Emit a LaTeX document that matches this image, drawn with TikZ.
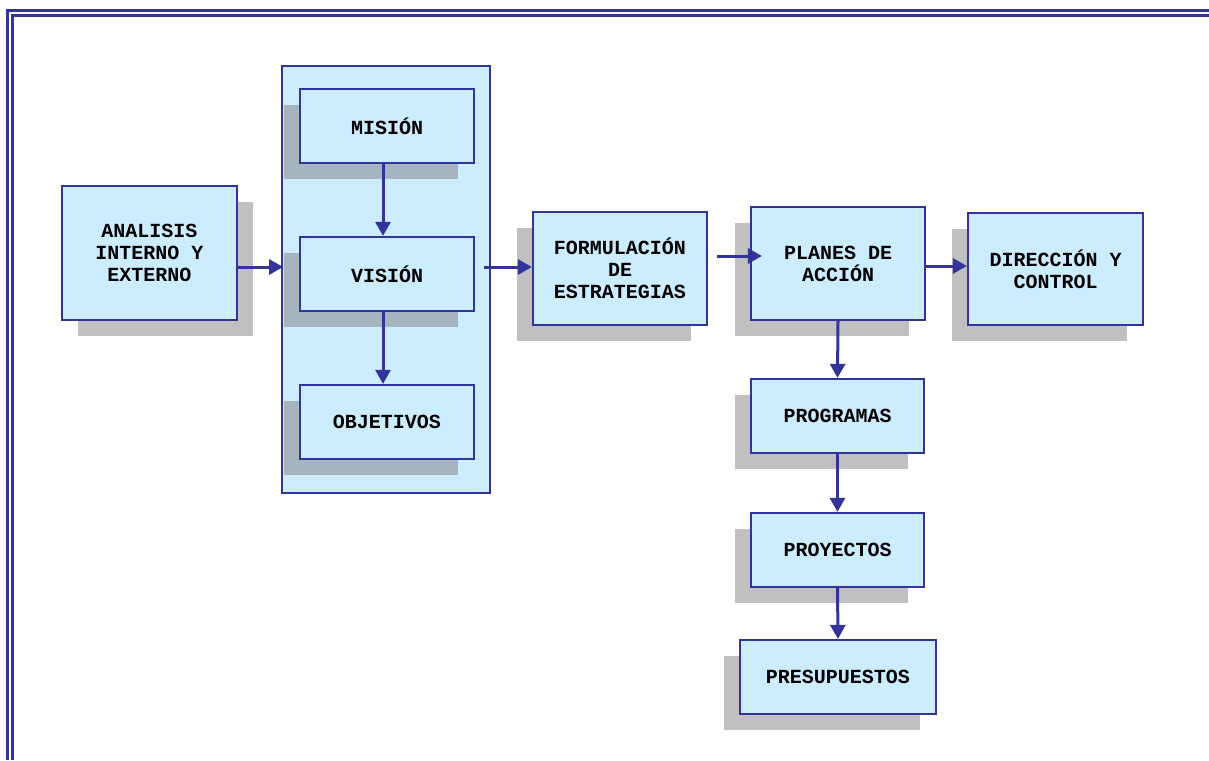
\documentclass[tikz,border=0pt]{standalone}
\usepackage{fontspec}
\setmonofont{Liberation Mono}
\usetikzlibrary{arrows.meta,calc}
\definecolor{azul}{HTML}{333399}
\definecolor{celeste}{HTML}{CCECFF}
\definecolor{gris}{HTML}{C0C0C0}
\definecolor{grisin}{HTML}{A6B4BD}

\begin{document}
\begin{tikzpicture}[x=0.5pt, y=-0.5pt,
        caja/.style={draw=azul, fill=celeste, line width=1.1pt, inner sep=0pt, align=center,
            font=\ttfamily\bfseries\fontsize{10}{11}\selectfont},
        sombra/.style={fill=gris},
        sombrain/.style={fill=grisin},
        flecha/.style={azul, line width=1.5pt, -{Triangle[length=7pt,width=7.5pt]}}]
        \useasboundingbox (0,0) rectangle (1209,760);
        % marco doble
        \draw[azul, line width=1.5pt] (7,760) -- (7,10.5) -- (1209,10.5);
        \draw[azul, line width=1.5pt] (12.5,760) -- (12.5,15.5) -- (1209,15.5);
        % bloque mision-vision-objetivos
        \node[caja, minimum width=104pt, minimum height=213.5pt] (marco) at (386,279.5) {};
        % sombras
        \fill[sombra] (78,202) rectangle (253,336);
        \fill[sombrain] (284,105) rectangle (458,179);
        \fill[sombrain] (284,253) rectangle (458,327);
        \fill[sombrain] (284,401) rectangle (458,475);
        \fill[sombra] (517,228) rectangle (691,341);
        \fill[sombra] (735,223) rectangle (909,336);
        \fill[sombra] (952,229) rectangle (1127,341);
        \fill[sombra] (735,395) rectangle (908,469);
        \fill[sombra] (735,529) rectangle (908,603);
        \fill[sombra] (724,656) rectangle (920,730);
        % cajas
        \node[caja, minimum width=87.5pt, minimum height=67pt] (analisis) at (149.5,253) {ANALISIS\\INTERNO Y\\EXTERNO};
        \node[caja, minimum width=87pt, minimum height=37pt] (mision) at (387,126) {MISIÓN};
        \node[caja, minimum width=87pt, minimum height=37pt] (vision) at (387,274) {VISIÓN};
        \node[caja, minimum width=87pt, minimum height=37pt] (objetivos) at (387,422) {OBJETIVOS};
        \node[caja, minimum width=87pt, minimum height=56.5pt] (formulacion) at (620,268.5) {FORMULACIÓN\\DE\\ESTRATEGIAS};
        \node[caja, minimum width=87pt, minimum height=56.5pt] (planes) at (838,263.5) {PLANES DE\\ACCIÓN};
        \node[caja, minimum width=87.5pt, minimum height=56pt] (direccion) at (1055.5,269) {DIRECCIÓN Y\\CONTROL};
        \node[caja, minimum width=86.5pt, minimum height=37pt] (programas) at (837.5,416) {PROGRAMAS};
        \node[caja, minimum width=86.5pt, minimum height=37pt] (proyectos) at (837.5,550) {PROYECTOS};
        \node[caja, minimum width=98pt, minimum height=37pt] (presupuestos) at (838,677) {PRESUPUESTOS};
        % flechas
        \draw[flecha] ($(analisis.east)+(0,14)$) -- ($(analisis.east)+(45,14)$);
        \draw[flecha] ([xshift=-2pt]mision.south) -- ([xshift=-2pt]vision.north);
        \draw[flecha] ([xshift=-2pt]vision.south) -- ([xshift=-2pt]objetivos.north);
        \draw[flecha] ($(formulacion.west)+(-48,-1.5)$) -- ($(formulacion.west)+(0,-1.5)$);
        \draw[flecha] ($(planes.west)+(-33,-7.5)$) -- ($(planes.west)+(12,-7.5)$);
        \draw[flecha] ($(planes.east)+(0,2.5)$) -- ($(direccion.west)+(0,-3)$);
        \draw[flecha] (planes.south) -- (programas.north);
        \draw[flecha] (programas.south) -- (proyectos.north);
        \draw[flecha] (proyectos.south) -- (presupuestos.north);
\end{tikzpicture}
\end{document}
